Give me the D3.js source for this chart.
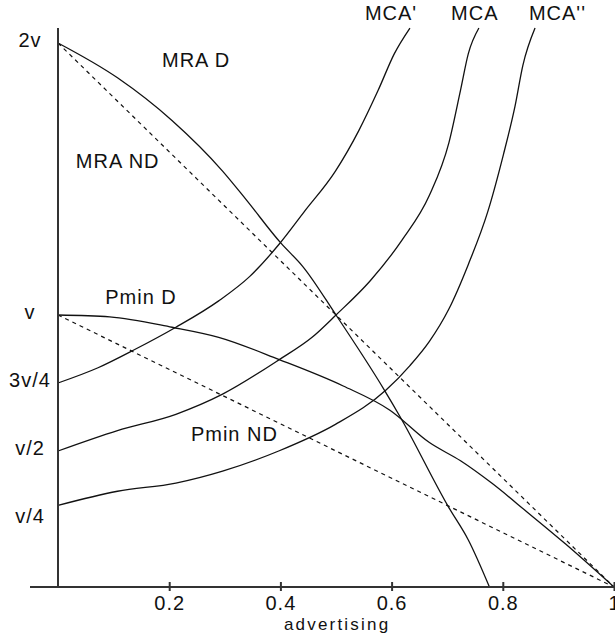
<!DOCTYPE html>
<html>
<head>
<meta charset="utf-8">
<script src="https://cdn.jsdelivr.net/npm/d3@7"></script>
<style>
	body { margin: 0; background: #fff; }
	svg text {
		font-family: "Liberation Sans", Arial, sans-serif;
		font-size: 20px;
		fill: #111;
		letter-spacing: 1px;
	}
	svg text.xtitle {
		font-size: 17px;
		letter-spacing: 2.2px;
	}
</style>
</head>
<body>
<div id="chart"></div>
<script>
// x axis: advertising, y axis: in units of v
var xTicks = [0.2, 0.4, 0.6, 0.8, 1];
var xTickLabels = ["0.2", "0.4", "0.6", "0.8", "1"];
var yTicks = [2, 1, 0.75, 0.5, 0.25];
var yTickLabels = ["2v", "v", "3v/4", "v/2", "v/4"];

// curves, [advertising, value / v]
var mraND = [[0, 2], [1, 0]];
var pminND = [[0, 1], [1, 0]];
var mraD = [[0, 2], [0.107, 1.872], [0.205, 1.715], [0.296, 1.529], [0.338, 1.425],
	[0.401, 1.264], [0.44, 1.179], [0.5, 1.0], [0.587, 0.724], [0.615, 0.627],
	[0.703, 0.292], [0.738, 0.173], [0.776, 0]];
var pminD = [[0, 1], [0.093, 0.993], [0.205, 0.955], [0.289, 0.918], [0.398, 0.836],
	[0.513, 0.739], [0.597, 0.65], [0.668, 0.531], [0.724, 0.464], [0.78, 0.382],
	[0.843, 0.277], [0.913, 0.158], [1, 0]];
var mcaPrime = [[0, 0.75], [0.072, 0.806], [0.138, 0.873], [0.212, 0.955], [0.289, 1.052],
	[0.345, 1.142], [0.398, 1.261], [0.443, 1.38], [0.499, 1.529], [0.541, 1.678],
	[0.576, 1.827], [0.605, 1.961], [0.633, 2.055]];
var mca = [[0, 0.5], [0.107, 0.575], [0.212, 0.635], [0.296, 0.709], [0.398, 0.836],
	[0.457, 0.918], [0.5, 1.0], [0.562, 1.127], [0.619, 1.276], [0.668, 1.44],
	[0.703, 1.633], [0.724, 1.827], [0.738, 1.961], [0.757, 2.055]];
var mcaSecond = [[0, 0.3], [0.107, 0.352], [0.212, 0.382], [0.296, 0.426], [0.398, 0.501],
	[0.499, 0.598], [0.59, 0.724], [0.633, 0.814], [0.668, 0.903], [0.703, 1.022],
	[0.738, 1.186], [0.773, 1.38], [0.801, 1.589], [0.822, 1.768], [0.836, 1.917],
	[0.858, 2.055]];

var curveNames = ["MRA D", "MRA ND", "Pmin D", "Pmin ND", "MCA'", "MCA", "MCA''"];
// where each name sits, in the same units as the curves
var curveNameAt = [[0.187, 1.912], [0.032, 1.54], [0.085, 1.04], [0.239, 0.537],
	[0.552, 2.085], [0.707, 2.085], [0.847, 2.085]];

var width = 615;
var height = 637;

var x = d3.scaleLinear().domain([0, 1]).range([58, 614]);
var y = d3.scaleLinear().domain([0, 2]).range([587, 43]);

var svg = d3.select("#chart").append("svg")
	.attr("width", width)
	.attr("height", height);

var line = d3.line()
	.x(function(d) { return x(d[0]); })
	.y(function(d) { return y(d[1]); })
	.curve(d3.curveMonotoneX);

// dashed: non dissipative
[mraND, pminND].forEach(function(pts) {
	svg.append("path")
		.datum(pts)
		.attr("d", line)
		.attr("fill", "none")
		.attr("stroke", "#111")
		.attr("stroke-width", 1.2)
		.attr("stroke-dasharray", "4,4");
});

[mraD, pminD, mcaPrime, mca, mcaSecond].forEach(function(pts) {
	svg.append("path")
		.datum(pts)
		.attr("d", line)
		.attr("fill", "none")
		.attr("stroke", "#111")
		.attr("stroke-width", 1.3);
});

// axes
svg.append("line")
	.attr("x1", 30).attr("x2", width)
	.attr("y1", y(0)).attr("y2", y(0))
	.attr("stroke", "#333")
	.attr("stroke-width", 2);

svg.append("line")
	.attr("x1", x(0)).attr("x2", x(0))
	.attr("y1", 28).attr("y2", y(0))
	.attr("stroke", "#333")
	.attr("stroke-width", 2);

var xAxis = d3.axisBottom(x)
	.tickValues(xTicks)
	.tickFormat(function(d, i) { return xTickLabels[i]; })
	.tickSize(4)
	.tickPadding(5);

var gx = svg.append("g")
	.attr("transform", "translate(0," + y(0) + ")")
	.call(xAxis);
gx.select(".domain").remove();
gx.selectAll(".tick line")
	.attr("y1", -5)
	.attr("stroke", "#333")
	.attr("stroke-width", 2);
gx.selectAll(".tick text")
	.attr("font-family", null)
	.attr("font-size", null)
	.attr("fill", null);
gx.attr("font-family", null).attr("font-size", null);

svg.append("text")
	.attr("class", "xtitle")
	.attr("x", x(0.5) + 1.1)
	.attr("y", 630)
	.attr("text-anchor", "middle")
	.text("advertising");

// y labels, no tick marks
svg.selectAll(".ylab")
	.data(yTicks)
	.enter().append("text")
	.attr("class", "ylab")
	.attr("x", 30)
	.attr("y", function(d) { return y(d) + 4; })
	.attr("text-anchor", "middle")
	.text(function(d, i) { return yTickLabels[i]; });

// curve names
svg.selectAll(".cname")
	.data(curveNames)
	.enter().append("text")
	.attr("class", "cname")
	.attr("x", function(d, i) { return x(curveNameAt[i][0]); })
	.attr("y", function(d, i) { return y(curveNameAt[i][1]); })
	.text(function(d) { return d; });
</script>
</body>
</html>
